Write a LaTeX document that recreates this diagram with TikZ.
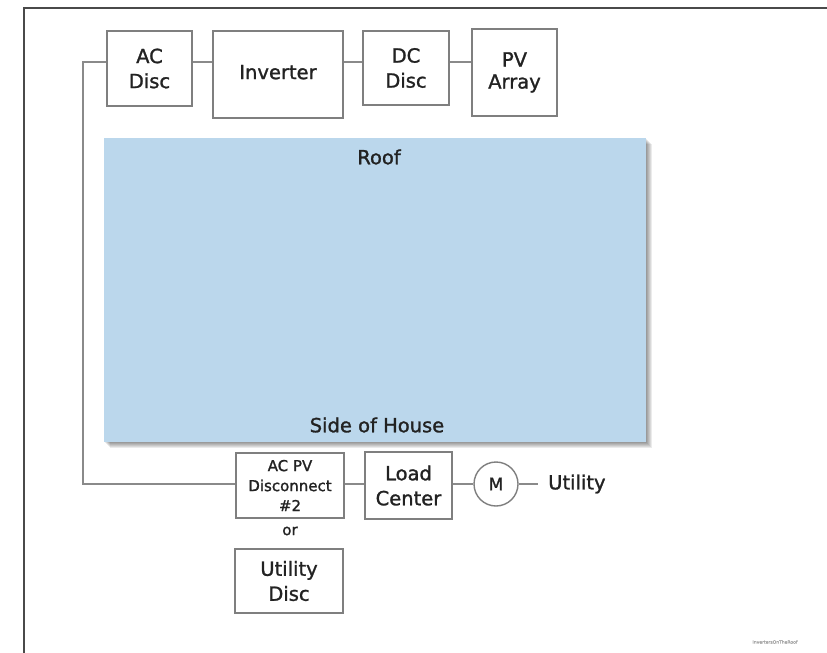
\documentclass[tikz,border=0pt]{standalone}
\usepackage{fontspec}
\setmainfont[FakeBold=1.3]{DejaVu Sans}
\definecolor{roofblue}{HTML}{BBD7EC}
\definecolor{edgegray}{HTML}{7F7F7F}
\definecolor{wiregray}{HTML}{8A8A8A}
\definecolor{framegray}{HTML}{4A4A4A}
\definecolor{txt}{HTML}{222222}
\tikzset{
  box/.style={draw=edgegray, line width=1.4pt, fill=white, rectangle, inner sep=0pt,
    align=center, text=txt, font=\fontsize{19.5}{25}\selectfont},
  smallbox/.style={box, font=\fontsize{15}{20}\selectfont},
  wire/.style={draw=wiregray, line width=1.4pt},
  lbl/.style={text=txt, inner sep=0pt, font=\fontsize{19.5}{25}\selectfont},
}
\begin{document}
\begin{tikzpicture}[x=1pt,y=-1pt]
\useasboundingbox (0,0) rectangle (827,653);
\fill[white] (0,0) rectangle (827,653);
% frame
\draw[framegray, line width=1.3pt] (24,653) -- (24,7.5);
\draw[framegray, line width=2pt] (23.35,7.5) -- (827,7.5);
% roof shadow
\foreach \d in {1,2,3,4,5,6}
  \fill[black, opacity=0.08] (104+\d,138+\d) rectangle (646+\d,442+\d);
\node[rectangle, fill=roofblue, inner sep=0pt, minimum width=542pt, minimum height=304pt] (roof) at (375,290) {};
\node[lbl] (rooflbl) at (379,157) {Roof};
\node[lbl] (sidelbl) at (377,425) {Side of House};
% top row boxes
\node[box, minimum width=85pt, minimum height=75pt] (acdisc) at (149.5,68.5) {AC\\Disc};
\node[box, minimum width=130pt, minimum height=87pt] (inv) at (278,74.5) {\raisebox{5pt}{Inverter}};
\node[box, minimum width=86pt, minimum height=74pt] (dcdisc) at (406,68) {DC\\Disc};
\node[box, minimum width=85pt, minimum height=87pt] (pv) at (514.5,72.5) {\raisebox{5pt}{\begin{tabular}{@{}c@{}}PV\\[-3pt]Array\end{tabular}}};
\coordinate (wy) at (0,62);
\draw[wire] (acdisc.east |- wy) -- (inv.west |- wy);
\draw[wire] (inv.east |- wy) -- (dcdisc.west |- wy);
\draw[wire] (dcdisc.east |- wy) -- (pv.west |- wy);
% bottom row
\node[smallbox, minimum width=108pt, minimum height=65pt] (acpv) at (290,485.5) {AC PV\\Disconnect\\\#2};
\node[lbl, font=\fontsize{15}{18}\selectfont] (orlbl) at (290,531) {or};
\node[box, minimum width=108pt, minimum height=64pt] (utdisc) at (289,581) {Utility\\Disc};
\node[box, minimum width=87pt, minimum height=67pt] (load) at (408.5,485.5) {Load\\Center};
\node[draw=edgegray, line width=1.4pt, circle, minimum size=44pt, inner sep=0pt, text=txt, font=\fontsize{17}{18}\selectfont] (meter) at (496,484) {M};
\node[lbl, anchor=west] (util) at (548,484) {Utility};
\coordinate (utilend) at (538,484);
\draw[wire] (acdisc.west |- wy) -- (83,62) |- (acpv.west |- 0,484);
\draw[wire] (acpv.east |- 0,484) -- (load.west |- 0,484);
\draw[wire] (load.east |- meter) -- (meter.west);
\draw[wire] (meter.east) -- (utilend);
% credit
\node[text=gray!70, inner sep=0pt, font=\fontsize{4.5}{5}\selectfont] (credit) at (775,642) {InvertersOnTheRoof};
\end{tikzpicture}
\end{document}
